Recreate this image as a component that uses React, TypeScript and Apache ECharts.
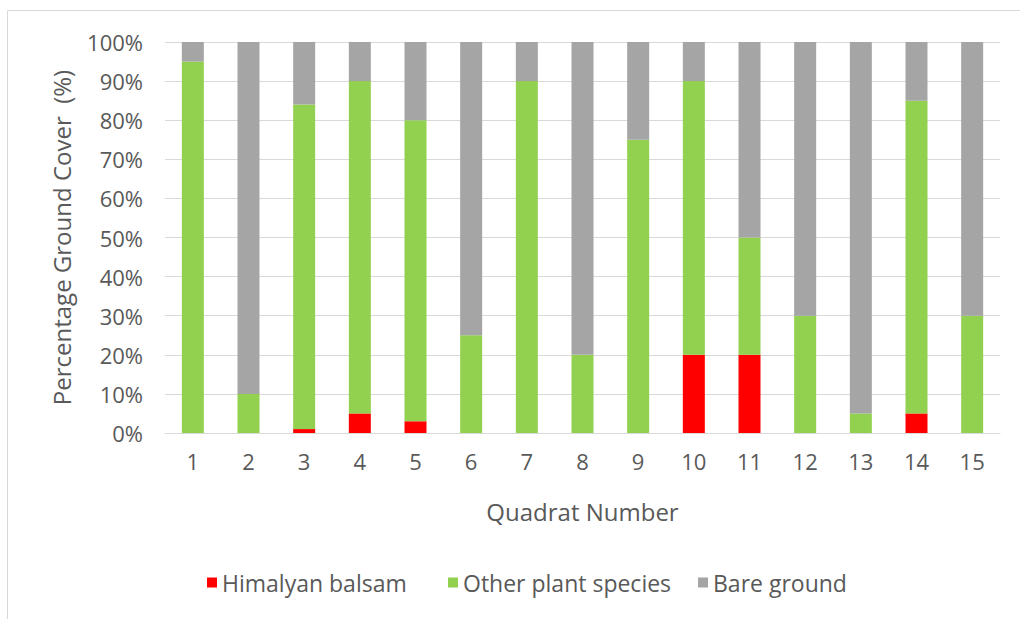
import React, { useEffect, useRef } from "react";
import * as echarts from "echarts";

const quadrats = ["1", "2", "3", "4", "5", "6", "7", "8", "9", "10", "11", "12", "13", "14", "15"];
const himalayanBalsam = [0, 0, 1, 5, 3, 0, 0, 0, 0, 20, 20, 0, 0, 5, 0];
const otherPlants = [95, 10, 83, 85, 77, 25, 90, 20, 75, 70, 30, 30, 5, 80, 30];
const bareGround = [5, 90, 16, 10, 20, 75, 10, 80, 25, 10, 50, 70, 95, 15, 70];

const seriesNames = ["Himalyan balsam", "Other plant species", "Bare ground"];
const seriesColors = ["#ff0000", "#92d050", "#a5a5a5"];
const legendLefts = [202, 443, 693];

const FONT = "Open Sans";
const TEXT = "#595959";

export default function App() {
  const ref = useRef<HTMLDivElement>(null);

  useEffect(() => {
    if (!ref.current) return;
    const chart = echarts.init(ref.current, undefined, { renderer: "svg" });
    const values = [himalayanBalsam, otherPlants, bareGround];
    chart.setOption({
      animation: false,
      backgroundColor: "#ffffff",
      textStyle: { fontFamily: FONT, color: TEXT },
      graphic: [
        {
          type: "rect",
          shape: { x: 7.5, y: 10.5, width: 1100, height: 700 },
          style: { fill: "none", stroke: "#d9d9d9", lineWidth: 1 },
          silent: true,
        },
      ],
      grid: { left: 165, right: 20, top: 42, bottom: 186 },
      legend: seriesNames.map((name, i) => ({
        left: legendLefts[i],
        top: 566,
        itemWidth: 10,
        itemHeight: 10,
        itemGap: 0,
        icon: "rect",
        textStyle: { fontFamily: FONT, fontSize: 23, color: TEXT, padding: [0, 0, 0, 0] },
        data: [name],
      })),
      xAxis: {
        type: "category",
        data: quadrats,
        name: "Quadrat Number",
        nameLocation: "middle",
        nameGap: 66,
        nameTextStyle: { fontFamily: FONT, fontSize: 24, color: TEXT },
        axisLine: { lineStyle: { color: "#d9d9d9" } },
        axisTick: { show: false },
        axisLabel: { fontFamily: FONT, fontSize: 22, color: TEXT, margin: 17 },
      },
      yAxis: {
        type: "value",
        min: 0,
        max: 100,
        interval: 10,
        name: "Percentage Ground Cover  (%)",
        nameLocation: "middle",
        nameGap: 92,
        nameTextStyle: { fontFamily: FONT, fontSize: 24, color: TEXT },
        axisLine: { show: false },
        axisTick: { show: false },
        axisLabel: { fontFamily: FONT, fontSize: 22, color: TEXT, margin: 22, formatter: "{value}%" },
        splitLine: { lineStyle: { color: "#d9d9d9" } },
      },
      series: seriesNames.map((name, i) => ({
        name,
        type: "bar",
        stack: "cover",
        data: values[i],
        barWidth: 22,
        itemStyle: { color: seriesColors[i] },
      })),
    });
    return () => chart.dispose();
  }, []);

  return (
    <div
      ref={ref}
      style={{ position: "fixed", left: 0, top: 0, width: 1020, height: 619, background: "#fff" }}
    />
  );
}
